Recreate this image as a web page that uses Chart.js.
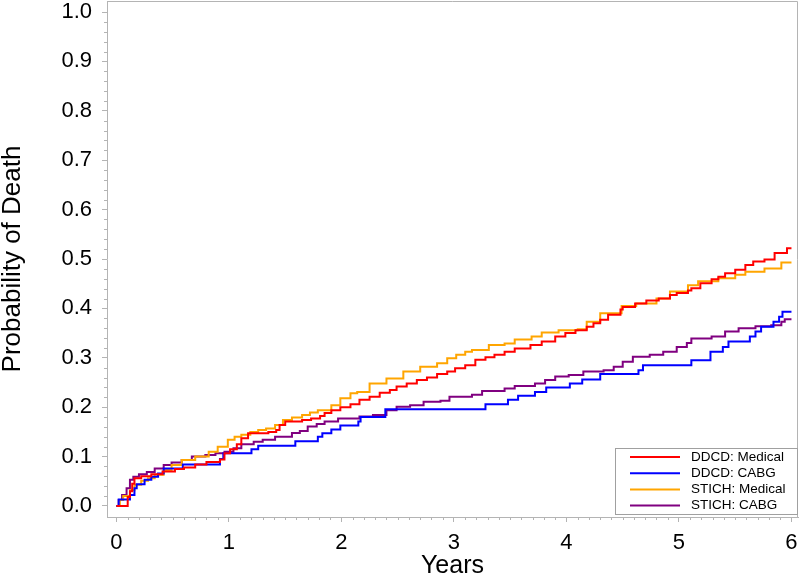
<!DOCTYPE html>
<html>
<head>
<meta charset="utf-8">
<script src="https://cdn.jsdelivr.net/npm/chart.js@4.4.0/dist/chart.umd.min.js"></script>
<style>
  html, body { margin: 0; padding: 0; background: #fff; }
  #wrap { width: 800px; height: 576px; }
</style>
</head>
<body>
<div id="wrap"><canvas id="km" width="800" height="576"></canvas></div>
<script>
// ── cumulative probability of death (step curves) ──
const ddcdMedT = [0, 0.10, 0.12, 0.14, 0.16, 0.22, 0.31, 0.41, 0.52, 0.60, 0.70, 0.80, 0.92, 0.96, 1.01, 1.07, 1.11, 1.17,
  1.35, 1.42, 1.45, 1.50, 1.65, 1.73, 1.81, 1.85, 1.91, 1.99, 2.08, 2.16, 2.25, 2.34, 2.43, 2.49, 2.58, 2.67, 2.76, 2.85,
  2.94, 3.01, 3.10, 3.19, 3.28, 3.36, 3.45, 3.54, 3.68, 3.78, 3.90, 3.99, 4.08, 4.18, 4.24, 4.30, 4.37, 4.48, 4.50, 4.61,
  4.71, 4.82, 4.92, 4.98, 5.08, 5.11, 5.19, 5.29, 5.35, 5.41, 5.50, 5.59, 5.66, 5.76, 5.85, 5.96, 6.00];
const ddcdMedP = [0, 0.018, 0.030, 0.045, 0.056, 0.060, 0.064, 0.070, 0.075, 0.078, 0.084, 0.089, 0.094, 0.107, 0.115, 0.125, 0.137, 0.147,
  0.150, 0.154, 0.164, 0.171, 0.174, 0.177, 0.182, 0.188, 0.194, 0.200, 0.206, 0.215, 0.221, 0.229, 0.235, 0.242, 0.248, 0.255, 0.260, 0.267,
  0.272, 0.279, 0.285, 0.296, 0.301, 0.306, 0.312, 0.319, 0.326, 0.333, 0.343, 0.350, 0.356, 0.363, 0.370, 0.377, 0.387, 0.398, 0.403, 0.410,
  0.416, 0.420, 0.427, 0.431, 0.436, 0.441, 0.451, 0.459, 0.464, 0.471, 0.478, 0.488, 0.495, 0.499, 0.512, 0.522, 0.522];

const ddcdCabgT = [0, 0.02, 0.12, 0.16, 0.18, 0.25, 0.31, 0.37, 0.42, 0.59, 0.92, 0.95, 1.20, 1.26, 1.59, 1.79, 1.83, 1.91, 1.99,
  2.15, 2.17, 2.39, 3.28, 3.48, 3.57, 3.72, 3.82, 4.03, 4.14, 4.30, 4.64, 4.68, 5.11, 5.28, 5.39, 5.44, 5.63, 5.68, 5.73,
  5.84, 5.89, 5.92, 6.00];
const ddcdCabgP = [0, 0.013, 0.022, 0.036, 0.044, 0.053, 0.059, 0.066, 0.076, 0.084, 0.095, 0.107, 0.115, 0.122, 0.131, 0.140, 0.147, 0.155, 0.163,
  0.171, 0.180, 0.196, 0.206, 0.215, 0.223, 0.231, 0.240, 0.248, 0.256, 0.267, 0.275, 0.285, 0.295, 0.312, 0.322, 0.333, 0.343, 0.353, 0.363,
  0.373, 0.383, 0.393, 0.393];

const stichMedT = [0, 0.03, 0.06, 0.12, 0.16, 0.22, 0.28, 0.34, 0.42, 0.49, 0.58, 0.70, 0.82, 0.90, 0.99, 1.05, 1.11, 1.19, 1.26,
  1.33, 1.41, 1.48, 1.56, 1.65, 1.72, 1.79, 1.91, 1.99, 2.08, 2.14, 2.25, 2.40, 2.55, 2.70, 2.85, 2.94, 3.02, 3.10, 3.16,
  3.31, 3.45, 3.54, 3.69, 3.78, 3.93, 4.10, 4.18, 4.30, 4.49, 4.62, 4.80, 4.92, 5.08, 5.17, 5.35, 5.50, 5.59, 5.76, 5.91, 6.00];
const stichMedP = [0, 0.012, 0.020, 0.032, 0.043, 0.051, 0.056, 0.063, 0.073, 0.083, 0.093, 0.100, 0.110, 0.120, 0.134, 0.140, 0.144, 0.150, 0.154,
  0.157, 0.164, 0.174, 0.179, 0.184, 0.189, 0.194, 0.204, 0.218, 0.228, 0.231, 0.248, 0.258, 0.272, 0.282, 0.289, 0.299, 0.306, 0.312, 0.316,
  0.326, 0.329, 0.337, 0.343, 0.351, 0.356, 0.358, 0.373, 0.390, 0.405, 0.410, 0.420, 0.434, 0.447, 0.455, 0.461, 0.468, 0.474, 0.481, 0.493, 0.493];

const stichCabgT = [0, 0.02, 0.05, 0.09, 0.12, 0.15, 0.20, 0.27, 0.34, 0.42, 0.49, 0.58, 0.67, 0.79, 0.88, 0.96, 1.04, 1.11, 1.22,
  1.30, 1.41, 1.56, 1.63, 1.70, 1.78, 1.85, 1.97, 2.16, 2.28, 2.40, 2.49, 2.61, 2.73, 2.88, 2.96, 3.16, 3.25, 3.45, 3.54,
  3.72, 3.81, 3.90, 4.02, 4.15, 4.33, 4.42, 4.50, 4.59, 4.74, 4.86, 4.98, 5.07, 5.11, 5.29, 5.41, 5.53, 5.68, 5.82, 5.91, 5.94, 6.00];
const stichCabgP = [0, 0.012, 0.022, 0.036, 0.053, 0.059, 0.064, 0.069, 0.076, 0.083, 0.088, 0.093, 0.100, 0.103, 0.107, 0.110, 0.117, 0.125, 0.130,
  0.134, 0.140, 0.148, 0.152, 0.161, 0.166, 0.171, 0.177, 0.181, 0.184, 0.194, 0.201, 0.204, 0.211, 0.213, 0.221, 0.225, 0.233, 0.238, 0.243,
  0.248, 0.255, 0.262, 0.265, 0.272, 0.275, 0.282, 0.292, 0.302, 0.306, 0.312, 0.322, 0.330, 0.339, 0.343, 0.353, 0.360, 0.364, 0.366, 0.373, 0.378, 0.378];

const seriesLabels = ['DDCD: Medical', 'DDCD: CABG', 'STICH: Medical', 'STICH: CABG'];
const xTicks = [0, 1, 2, 3, 4, 5, 6];
const yTicks = [0, 0.1, 0.2, 0.3, 0.4, 0.5, 0.6, 0.7, 0.8, 0.9, 1.0];

const COLORS = ['#ff0000', '#0000ff', '#ffa500', '#800080'];
const AXIS_GREY = '#b4b4b4';

const pts = (t, p) => t.map((x, i) => ({ x, y: p[i] }));

Chart.defaults.font.family = "'Liberation Sans', Arial, sans-serif";
Chart.defaults.color = '#000';

// frame, minor ticks and the in-plot legend box
const extras = {
  id: 'extras',
  afterDraw(chart) {
    const { ctx, chartArea: a, scales } = chart;
    ctx.save();
    ctx.strokeStyle = AXIS_GREY;
    ctx.lineWidth = 1;
    ctx.beginPath();
    ctx.moveTo(a.left, a.top + 0.5); ctx.lineTo(a.right - 0.5, a.top + 0.5); ctx.lineTo(a.right - 0.5, a.bottom);
    // minor ticks
    for (let i = 0; i <= 60; i++) {
      if (i % 10 === 0) continue;
      const x = Math.round(scales.x.getPixelForValue(i / 10)) + 0.5;
      ctx.moveTo(x, a.bottom); ctx.lineTo(x, a.bottom + 3);
    }
    for (let i = 0; i <= 50; i++) {
      if (i % 5 === 0) continue;
      const y = Math.round(scales.y.getPixelForValue(i / 50)) + 0.5;
      ctx.moveTo(a.left, y); ctx.lineTo(a.left - 3, y);
    }
    ctx.stroke();

    // legend
    const w = 183, h = 66;
    const bx = a.right - w, by = a.bottom - 3 - h;
    ctx.strokeStyle = '#a0a0a0';
    ctx.strokeRect(bx + 0.5, by + 0.5, w - 1, h);
    ctx.font = "13.5px 'Liberation Sans', Arial, sans-serif";
    ctx.textBaseline = 'middle';
    chart.data.datasets.forEach((ds, i) => {
      const y = by + 9 + i * 16.2;
      ctx.strokeStyle = ds.borderColor;
      ctx.lineWidth = 2;
      ctx.beginPath();
      ctx.moveTo(bx + 15, y); ctx.lineTo(bx + 65, y);
      ctx.stroke();
      ctx.fillStyle = '#000';
      ctx.fillText(ds.label, bx + 76, y);
    });
    ctx.restore();
  }
};

new Chart(document.getElementById('km'), {
  type: 'line',
  data: {
    datasets: [
      { label: seriesLabels[0], data: pts(ddcdMedT, ddcdMedP), borderColor: COLORS[0] },
      { label: seriesLabels[1], data: pts(ddcdCabgT, ddcdCabgP), borderColor: COLORS[1] },
      { label: seriesLabels[2], data: pts(stichMedT, stichMedP), borderColor: COLORS[2] },
      { label: seriesLabels[3], data: pts(stichCabgT, stichCabgP), borderColor: COLORS[3] },
    ].map(d => ({ ...d, stepped: 'before', borderWidth: 2, pointRadius: 0, fill: false })),
  },
  options: {
    responsive: false,
    animation: false,
    layout: { padding: { top: 1, right: 2, left: 0, bottom: 0 } },
    plugins: { legend: { display: false }, tooltip: { enabled: false } },
    scales: {
      x: {
        type: 'linear', min: -0.084, max: 6.058,
        afterFit: s => { s.height = 59; s.paddingLeft = 0; s.paddingRight = 0; },
        afterBuildTicks: s => { s.ticks = xTicks.map(v => ({ value: v })); },
        ticks: { font: { size: 22 }, padding: 8, maxRotation: 0, autoSkip: false, callback: v => String(v) },
        grid: { drawOnChartArea: false, tickLength: 5, color: AXIS_GREY },
        border: { color: AXIS_GREY },
        title: { display: true, text: 'Years', font: { size: 25, lineHeight: 1 }, padding: { top: 0, bottom: -3 } },
      },
      y: {
        type: 'linear', min: -0.0223, max: 1.0223,
        afterFit: s => { s.width = 107; s.paddingTop = 0; s.paddingBottom = 0; },
        afterBuildTicks: s => { s.ticks = yTicks.map(v => ({ value: v })); },
        ticks: { font: { size: 22 }, padding: 10, autoSkip: false, callback: v => v.toFixed(1) },
        grid: { drawOnChartArea: false, tickLength: 5, color: AXIS_GREY },
        border: { color: AXIS_GREY },
        title: { display: true, text: 'Probability of Death', font: { size: 26, lineHeight: 1 }, padding: 0 },
      },
    },
  },
  plugins: [extras],
});
</script>
</body>
</html>
